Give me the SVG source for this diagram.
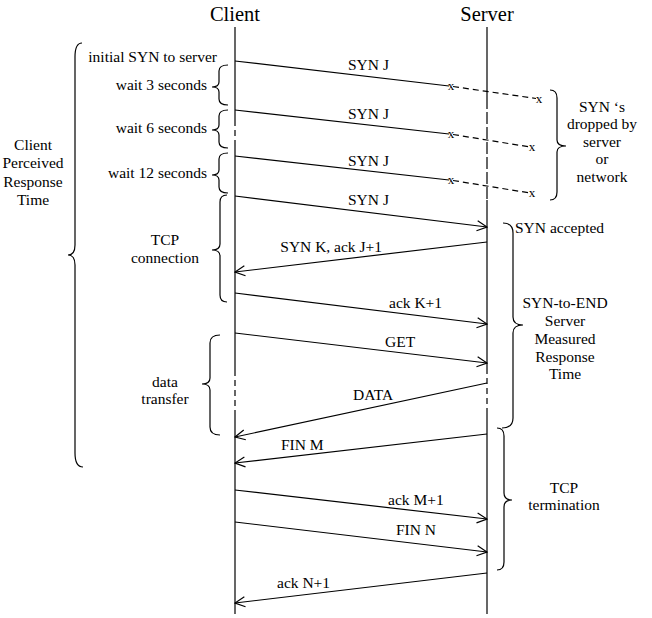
<svg xmlns="http://www.w3.org/2000/svg" width="652" height="618" viewBox="0 0 652 618">
<style>
text{font-family:"Liberation Serif","Times New Roman",serif;font-size:15.5px;fill:#000}
.title{font-size:20.5px;text-anchor:middle}
.mid{text-anchor:middle}
.end{text-anchor:end}
.x{font-size:13px;text-anchor:middle}
.ln{stroke:#000;stroke-width:1.2;fill:none}
.dash{stroke:#000;stroke-width:1.2;fill:none;stroke-dasharray:6,4}
.msg{stroke:#000;stroke-width:1.2;fill:none;marker-end:url(#arr)}
.brace{stroke:#000;stroke-width:1.2;fill:none}
</style>
<defs>
<marker id="arr" viewBox="0 0 12 12" refX="11" refY="6" markerWidth="12" markerHeight="12" markerUnits="userSpaceOnUse" orient="auto">
<path d="M1,1 L11,6 L1,11" fill="none" stroke="#000" stroke-width="1.2"/>
</marker>
</defs>
<rect width="652" height="618" fill="#fff"/>

<g id="client">
<text class="title" x="235" y="21">Client</text>
<line class="ln" x1="235" y1="27" x2="235" y2="120"/>
<line class="dash" x1="235" y1="120" x2="235" y2="146"/>
<line class="ln" x1="235" y1="146" x2="235" y2="370"/>
<line class="dash" x1="235" y1="370" x2="235" y2="410"/>
<line class="ln" x1="235" y1="410" x2="235" y2="614"/>
</g>

<g id="server">
<text class="title" x="487" y="21">Server</text>
<line class="ln" x1="487" y1="27" x2="487" y2="97"/>
<line class="ln" x1="487" y1="97" x2="487" y2="200" style="stroke-dasharray:12,3"/>
<line class="ln" x1="487" y1="200" x2="487" y2="368"/>
<line class="dash" x1="487" y1="368" x2="487" y2="412"/>
<line class="ln" x1="487" y1="412" x2="487" y2="614"/>
</g>

<g id="connectors">
<line class="ln" x1="235" y1="61" x2="449" y2="86"/>
<line class="dash" x1="453" y1="86.5" x2="536" y2="98.5"/>
<line class="ln" x1="235" y1="110" x2="449" y2="134"/>
<line class="dash" x1="453" y1="134.5" x2="530" y2="147"/>
<line class="ln" x1="235" y1="156" x2="449" y2="180"/>
<line class="dash" x1="453" y1="180.5" x2="530" y2="193"/>
<line class="msg" x1="235" y1="196" x2="487" y2="227"/>
<line class="msg" x1="487" y1="242" x2="235" y2="272"/>
<line class="msg" x1="235" y1="293" x2="487" y2="324"/>
<line class="msg" x1="235" y1="333" x2="487" y2="363"/>
<line class="msg" x1="487" y1="383" x2="235" y2="437"/>
<line class="msg" x1="487" y1="434" x2="235" y2="463"/>
<line class="msg" x1="235" y1="490" x2="487" y2="519"/>
<line class="msg" x1="235" y1="522" x2="487" y2="552"/>
<line class="msg" x1="487" y1="573" x2="235" y2="603"/>
</g>

<g id="drop-marks">
<text class="x" x="451" y="90">x</text>
<text class="x" x="539" y="102.5">x</text>
<text class="x" x="451" y="138">x</text>
<text class="x" x="532" y="150.5">x</text>
<text class="x" x="451" y="184">x</text>
<text class="x" x="532" y="196.5">x</text>
</g>

<g id="msg-labels">
<text x="348" y="70">SYN J</text>
<text x="348" y="119">SYN J</text>
<text x="348" y="166">SYN J</text>
<text x="348" y="205">SYN J</text>
<text class="end" x="382" y="252">SYN K, ack J+1</text>
<text x="389" y="308">ack K+1</text>
<text x="385" y="347">GET</text>
<text x="353" y="400">DATA</text>
<text x="281" y="450">FIN M</text>
<text x="388" y="505">ack M+1</text>
<text x="396" y="535">FIN N</text>
<text x="277" y="588">ack N+1</text>
</g>

<g id="client-perceived">
<path class="brace" d="M82,43 Q75,43 75,57 L75,245 Q75,255 68,255 Q75,255 75,265 L75,453 Q75,467 83,467"/>
<text class="mid" x="33" y="150">Client</text>
<text class="mid" x="33" y="168">Perceived</text>
<text class="mid" x="33" y="187">Response</text>
<text class="mid" x="33" y="205">Time</text>
</g>

<g id="initial-syn">
<text class="end" x="217" y="62">initial SYN to server</text>
</g>

<g id="wait3">
<path class="brace" d="M228,65 Q219,65 219,71 L219,82 Q219,87 212,87 Q219,87 219,92 L219,99 Q219,105 228,105"/>
<text class="end" x="207" y="90">wait 3 seconds</text>
</g>

<g id="wait6">
<path class="brace" d="M228,110 Q219,110 219,116 L219,125 Q219,130 212,130 Q219,130 219,135 L219,142 Q219,148 228,148"/>
<text class="end" x="207" y="133">wait 6 seconds</text>
</g>

<g id="wait12">
<path class="brace" d="M228,153 Q219,153 219,159 L219,170 Q219,175 212,175 Q219,175 219,180 L219,187 Q219,193 228,193"/>
<text class="end" x="207" y="178">wait 12 seconds</text>
</g>

<g id="tcp-connection">
<path class="brace" d="M227,195 Q220,195 220,202 L220,244 Q220,250 212,250 Q220,250 220,256 L220,295 Q220,302 227,302"/>
<text class="mid" x="165" y="245">TCP</text>
<text class="mid" x="165" y="263">connection</text>
</g>

<g id="data-transfer">
<path class="brace" d="M220,335 Q210,335 210,343 L210,378 Q210,384 202,384 Q210,384 210,390 L210,427 Q210,435 220,435"/>
<text class="mid" x="165" y="387">data</text>
<text class="mid" x="165" y="404">transfer</text>
</g>

<g id="syn-dropped">
<path class="brace" d="M550,90 Q557,90 557,98 L557,140 Q557,146 566,146 Q557,146 557,152 L557,192 Q557,200 550,200"/>
<text class="mid" x="602" y="112">SYN ‘s</text>
<text class="mid" x="602" y="129">dropped by</text>
<text class="mid" x="602" y="147">server</text>
<text class="mid" x="602" y="164">or</text>
<text class="mid" x="602" y="182">network</text>
</g>

<g id="syn-to-end">
<path class="brace" d="M503,223 Q513,223 513,233 L513,317 Q513,325 523,325 Q513,325 513,333 L513,418 Q513,428 502,428"/>
<text x="515" y="233">SYN accepted</text>
<text class="mid" x="565" y="308">SYN-to-END</text>
<text class="mid" x="565" y="326">Server</text>
<text class="mid" x="565" y="344">Measured</text>
<text class="mid" x="565" y="362">Response</text>
<text class="mid" x="565" y="379">Time</text>
</g>

<g id="tcp-termination">
<path class="brace" d="M497,428 Q504,428 504,436 L504,493 Q504,500 512,500 Q504,500 504,507 L504,562 Q504,570 497,570"/>
<text class="mid" x="564" y="493">TCP</text>
<text class="mid" x="564" y="510">termination</text>
</g>
</svg>
